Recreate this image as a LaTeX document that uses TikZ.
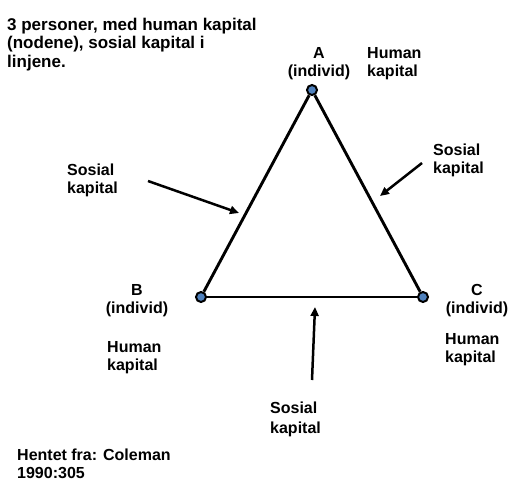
\documentclass[tikz,border=0pt]{standalone}
\usepackage{fontspec}
\setmainfont{Liberation Sans}
\usetikzlibrary{arrows.meta}
\definecolor{nodeblue}{RGB}{79,129,189}
\begin{document}
\begin{tikzpicture}[x=1pt,y=-1pt,
  lbl/.style={font=\bfseries\fontsize{16}{18}\selectfont, inner sep=0pt, align=left, anchor=base west},
  clbl/.style={font=\bfseries\fontsize{16}{18}\selectfont, inner sep=0pt, align=center, anchor=base},
  ttl/.style={font=\bfseries\fontsize{17}{18.5}\selectfont, inner sep=0pt, align=left, anchor=base west},
  person/.style={circle, draw=black, line width=2pt, fill=nodeblue, minimum size=10pt, inner sep=0pt},
  tie/.style={line width=2.9pt},
  pointer/.style={line width=2.5pt, -{Triangle[length=9pt,width=8pt]}}]
\useasboundingbox (0,0) rectangle (511,480);
% persons
\node[person] (A) at (312,90) {};
\node[person] (B) at (201,297) {};
\node[person] (C) at (423,297) {};
% social ties
\draw[tie] (A) -- (B);
\draw[tie] (A) -- (C);
\draw[tie] (B) -- (C);
% texts (base anchor = baseline of the last line)
\node[ttl] (title) at (7,67) {3 personer, med human kapital\\(nodene), sosial kapital i\\linjene.};
\node[clbl] (Alab) at (319,76) {A\\(individ)};
\node[lbl] (Ahk) at (367,76) {Human\\kapital};
\node[clbl] (Blab) at (137,313) {B\\(individ)};
\node[lbl] (Bhk) at (107,370) {Human\\kapital};
\node[clbl] (Clab) at (477,313) {C\\(individ)};
\node[lbl] (Chk) at (445,362) {Human\\kapital};
\node[lbl] (sk1) at (67,193) {Sosial\\kapital};
\node[lbl] (sk2) at (433,173) {Sosial\\kapital};
\node[font=\bfseries\fontsize{16}{20}\selectfont, inner sep=0pt, align=left, anchor=base west] (sk3) at (270,433) {Sosial\\kapital};
\node[lbl] (src) at (17,478) {Hentet fra: Coleman\\1990:305};
% pointers
\coordinate (p1s) at (148,181);
\coordinate (p1e) at (239,213);
\coordinate (p2s) at (422,163);
\coordinate (p2e) at (380,196);
\coordinate (p3s) at (312,380);
\coordinate (p3e) at (315,307);
\draw[pointer] (p1s) -- (p1e);
\draw[pointer] (p2s) -- (p2e);
\draw[pointer] (p3s) -- (p3e);
\end{tikzpicture}
\end{document}
